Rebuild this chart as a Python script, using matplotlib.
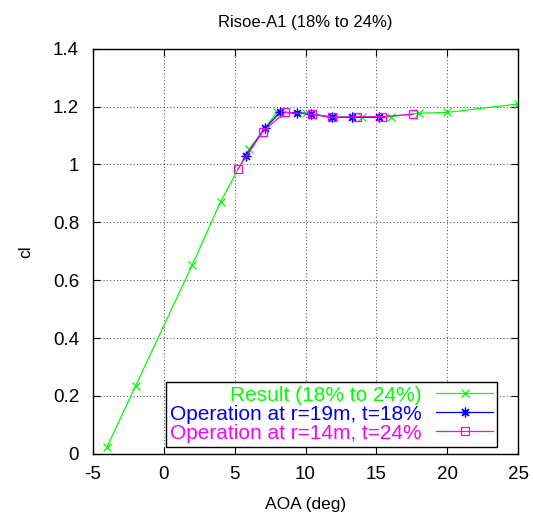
import matplotlib
matplotlib.use('Agg')
import matplotlib.pyplot as plt

plt.rcParams['font.family'] = ['Liberation Sans', 'DejaVu Sans']
plt.rcParams['axes.unicode_minus'] = False

# Result (18% to 24%)
res_aoa = [-4, -2, 2, 4, 6, 8, 10, 12, 14, 16, 18, 20, 25]
res_cl = [0.025, 0.234, 0.652, 0.871, 1.052, 1.182, 1.177, 1.163, 1.163, 1.165, 1.177, 1.180, 1.209]

# Operation at r=19m, t=18%
op19_aoa = [5.78, 7.14, 8.2, 9.42, 10.38, 11.9, 13.3, 15.18]
op19_cl = [1.030, 1.125, 1.180, 1.179, 1.174, 1.163, 1.163, 1.163]

# Operation at r=14m, t=24%
op14_aoa = [5.21, 6.97, 8.55, 10.43, 11.85, 13.65, 15.4, 17.6]
op14_cl = [0.983, 1.113, 1.180, 1.174, 1.163, 1.165, 1.165, 1.174]

xticks = [-5, 0, 5, 10, 15, 20, 25]
yticks = [0, 0.2, 0.4, 0.6, 0.8, 1, 1.2, 1.4]
ytick_labels = ['0', '0.2', '0.4', '0.6', '0.8', '1', '1.2', '1.4']

fig = plt.figure(figsize=(5.33, 5.24), dpi=100)
ax = fig.add_axes([0.1745, 0.134, 0.7975, 0.773])

ax.plot(res_aoa, res_cl, color='#00ff00', lw=0.9, marker='x', ms=6, mew=0.9,
        label='Result (18% to 24%)')
ax.plot(op19_aoa, op19_cl, color='#0000ff', lw=0.9, marker=(8, 2, 0), ms=7, mew=0.9,
        label='Operation at r=19m, t=18%')
ax.plot(op14_aoa, op14_cl, color='#ff00ff', lw=0.9, marker='s', ms=6, mew=0.9,
        mfc='none', label='Operation at r=14m, t=24%')

ax.set_xlim(-5, 25)
ax.set_ylim(0, 1.4)
ax.set_xticks(xticks)
ax.set_yticks(yticks)
ax.set_yticklabels(ytick_labels)
ax.tick_params(direction='in', top=True, right=True, labelsize=13.5, length=5, width=0.8)
ax.tick_params(axis='x', pad=9)
ax.tick_params(axis='y', pad=10)
ax.grid(True, color='0.35', linestyle=(0, (1, 2)), lw=0.8)
for s in ax.spines.values():
    s.set_linewidth(1.0)

ax.set_title('Risoe-A1 (18% to 24%)', fontsize=12, pad=16)
ax.set_xlabel('AOA (deg)', fontsize=12.5, labelpad=10)
ax.set_ylabel('cl', fontsize=12.5, labelpad=14)

# markerfirst=False puts the samples on the right and right-aligns the labels
leg = ax.legend(loc='lower right', bbox_to_anchor=(0.95, 0.017), borderaxespad=0,
                markerfirst=False, fancybox=False, framealpha=1, edgecolor='black',
                fontsize=15, handlelength=2.7, handletextpad=0.7, labelspacing=0.0,
                borderpad=0.2)
leg.get_frame().set_linewidth(1.0)
for t, c in zip(leg.get_texts(), ['#00ff00', '#0000ff', '#ff00ff']):
    t.set_color(c)

fig.savefig('out.png', dpi=100)
